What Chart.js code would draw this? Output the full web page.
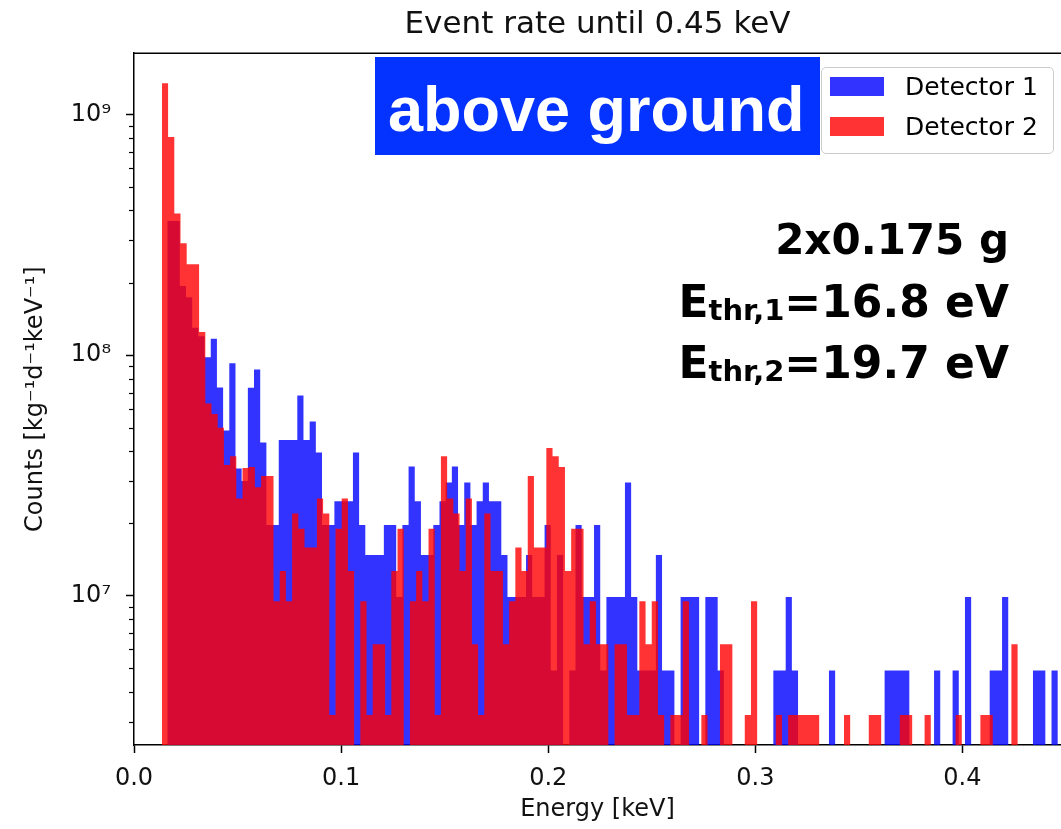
<!DOCTYPE html>
<html>
<head>
<meta charset="utf-8">
<script src="https://cdn.jsdelivr.net/npm/chart.js@4.4.1/dist/chart.umd.min.js"></script>
<style>
  html, body { margin: 0; padding: 0; background: #fff; }
  #wrap { position: relative; width: 1061px; height: 829px; overflow: hidden; }
  #chart { position: absolute; left: 0; top: 0; }
  #ground {
    position: absolute; left: 375px; top: 57px; width: 445px; height: 98px;
    background: #0433ff; color: #fff; box-sizing: border-box; padding-left: 13px;
    font: bold 63px "Liberation Sans", Arial, sans-serif; line-height: 104px; white-space: nowrap;
  }
  #legend {
    position: absolute; left: 821px; top: 67px; width: 233px; height: 87px; box-sizing: border-box;
    background: rgba(255,255,255,0.8); border: 1px solid #cccccc; border-radius: 5px;
    font: 25px "DejaVu Sans", sans-serif; color: #000;
  }
  #legend .patch { position: absolute; left: 8px; width: 54px; height: 19px; }
  #legend .label { position: absolute; left: 83px; line-height: 30px; white-space: nowrap; }
  .note {
    position: absolute; right: 52px; white-space: nowrap; color: #000;
    font-family: "DejaVu Sans", sans-serif; font-weight: bold;
  }
  .note sub { font-size: 29px; vertical-align: -3px; line-height: 0; }
</style>
</head>
<body>
<div id="wrap">
  <canvas id="chart" width="1061" height="829"></canvas>
  <div id="ground">above ground</div>
  <div id="legend">
    <div class="patch" style="top:9px;background:rgba(0,0,255,0.8)"></div>
    <div class="label" style="top:4px">Detector 1</div>
    <div class="patch" style="top:49px;background:rgba(255,0,0,0.8)"></div>
    <div class="label" style="top:44px">Detector 2</div>
  </div>
  <div class="note" style="top:219px;font-size:42px;line-height:42px">2x0.175 g</div>
  <div class="note" style="top:280px;font-size:44px;line-height:44px">E<sub>thr,1</sub>=16.8 eV</div>
  <div class="note" style="top:341px;font-size:44px;line-height:44px">E<sub>thr,2</sub>=19.7 eV</div>
</div>
<script>
// histogram binning (keV)
const det1Start = 0.01318, det1Width = 0.002985;
const det2Start = 0.01347, det2Width = 0.002994;

// rates per bin [kg^-1 d^-1 keV^-1]
const det1Rate = [
  0, 3.61e8, 3.61e8, 1.94e8, 1.74e8, 1.30e8, 1.2e8, 9.8e7, 1.17e8, 7.35e7,
  4.87e7, 9.26e7, 3.38e7, 3.0e7, 7.32e7, 8.72e7, 4.34e7, 1.97e7, 1.97e7, 4.44e7,
  4.44e7, 4.44e7, 6.8e7, 4.44e7, 5.31e7, 3.94e7, 1.97e7, 1.97e7, 2.47e7, 2.47e7,
  2.47e7, 3.94e7, 1.97e7, 1.48e7, 1.48e7, 1.48e7, 1.97e7, 1.97e7, 9.9e6, 1.97e7,
  3.45e7, 2.47e7, 1.48e7, 1.48e7, 1.97e7, 2.47e7, 2.96e7, 3.45e7, 1.97e7, 2.96e7,
  1.97e7, 2.47e7, 2.96e7, 2.47e7, 2.47e7, 1.48e7, 9.9e6, 9.9e6, 9.9e6, 1.48e7,
  9.9e6, 9.9e6, 1.97e7, 4.9e6, 1.48e7, 0, 4.9e6, 1.97e7, 9.9e6, 9.9e6,
  1.97e7, 4.9e6, 9.9e6, 9.9e6, 9.9e6, 2.96e7, 9.9e6, 4.9e6, 4.9e6, 4.9e6,
  1.48e7, 4.9e6, 4.9e6, 0, 9.9e6, 9.9e6, 9.9e6, 0, 9.9e6, 9.9e6,
  4.9e6, 0, 0, 0, 0, 0, 0, 0, 0, 4.9e6,
  4.9e6, 9.9e6, 4.9e6, 0, 0, 0, 0, 0, 4.9e6, 0,
  0, 0, 0, 0, 0, 0, 0, 4.9e6, 4.9e6, 4.9e6,
  4.9e6, 0, 0, 0, 0, 4.9e6, 0, 0, 4.9e6, 0,
  9.9e6, 0, 0, 0, 4.9e6, 4.9e6, 9.9e6, 0, 0, 0,
  0, 4.9e6, 4.9e6, 0, 4.9e6, 0
];
const det2Rate = [
  1.35e9, 8.08e8, 3.88e8, 2.92e8, 2.39e8, 2.39e8, 1.25e8, 6.3e7, 5.7e7, 5.0e7,
  3.5e7, 3.8e7, 2.54e7, 3.4e7, 3.43e7, 2.83e7, 3.15e7, 3.15e7, 9.5e6, 1.27e7,
  9.5e6, 2.2e7, 1.9e7, 1.59e7, 1.59e7, 2.54e7, 2.2e7, 3.2e6, 1.9e7, 2.54e7,
  1.27e7, 0, 9.5e6, 3.2e6, 6.3e6, 6.3e6, 3.2e6, 1.27e7, 1.9e7, 0,
  9.5e6, 1.27e7, 9.5e6, 1.9e7, 3.2e6, 3.8e7, 2.54e7, 2.2e7, 1.27e7, 2.54e7,
  6.3e6, 3.2e6, 2.2e7, 1.27e7, 1.27e7, 6.3e6, 9.5e6, 1.59e7, 1.27e7, 3.15e7,
  1.59e7, 1.59e7, 4.12e7, 3.8e7, 3.43e7, 1.27e7, 1.9e7, 1.9e7, 6.3e6, 9.5e6,
  6.3e6, 6.3e6, 0, 6.3e6, 6.3e6, 3.2e6, 3.2e6, 9.5e6, 6.3e6, 9.5e6,
  3.2e6, 0, 3.2e6, 3.2e6, 9.5e6, 0, 0, 3.2e6, 0, 0,
  6.3e6, 6.3e6, 0, 0, 3.2e6, 9.5e6, 0, 0, 0, 3.2e6,
  0, 3.2e6, 3.2e6, 3.2e6, 3.2e6, 3.2e6, 0, 0, 0, 0,
  3.2e6, 0, 0, 0, 3.2e6, 3.2e6, 0, 0, 0, 3.2e6,
  3.2e6, 0, 0, 3.2e6, 0, 0, 0, 0, 3.2e6, 0,
  0, 0, 3.2e6, 3.2e6, 0, 0, 0, 6.3e6, 0, 0,
  0, 0, 0, 0, 0, 0
];

const xTickValues = [0, 0.1, 0.2, 0.3, 0.4];
const xRange = [0, 0.4476];
const yRange = [2.4e6, 1.8e9];

const sup = { '0': '⁰', '1': '¹', '2': '²', '3': '³', '4': '⁴', '5': '⁵', '6': '⁶', '7': '⁷', '8': '⁸', '9': '⁹' };

// left bin edges with the bin's rate, plus the closing edge
function histPoints(start, width, rates) {
  const pts = rates.map((r, i) => ({ x: start + i * width, y: r > 0 ? r : yRange[0] }));
  pts.push({ x: start + rates.length * width, y: yRange[0] });
  return pts;
}

const frame = {
  id: 'frame',
  afterDraw(chart) {
    const { ctx, chartArea: a } = chart;
    const y = chart.scales.y;
    ctx.save();
    ctx.strokeStyle = '#000';
    ctx.lineWidth = 1.2;
    y.ticks.forEach(t => {
      if (t.major) return;
      const py = Math.round(y.getPixelForValue(t.value)) + 0.5;
      ctx.beginPath();
      ctx.moveTo(a.left - 5, py);
      ctx.lineTo(a.left, py);
      ctx.stroke();
    });
    ctx.lineWidth = 1.5;
    ctx.beginPath();
    ctx.moveTo(a.left, a.top);
    ctx.lineTo(a.right, a.top);
    ctx.stroke();
    ctx.restore();
  }
};

const tickFont = { family: 'DejaVu Sans', size: 24 };

new Chart(document.getElementById('chart'), {
  type: 'line',
  data: {
    datasets: [{
      label: 'Detector 1',
      data: histPoints(det1Start, det1Width, det1Rate),
      backgroundColor: 'rgba(0, 0, 255, 0.8)',
      order: 1
    }, {
      label: 'Detector 2',
      data: histPoints(det2Start, det2Width, det2Rate),
      backgroundColor: 'rgba(255, 0, 0, 0.8)',
      order: 0
    }]
  },
  options: {
    responsive: false,
    animation: false,
    devicePixelRatio: 1,
    datasets: {
      line: {
        stepped: true,
        fill: 'start',
        borderWidth: 0,
        borderColor: 'rgba(0,0,0,0)',
        pointRadius: 0,
        tension: 0
      }
    },
    layout: { padding: 0 },
    plugins: {
      legend: { display: false },
      tooltip: { enabled: false },
      title: {
        display: true,
        fullSize: false,
        text: 'Event rate until 0.45 keV',
        color: '#111',
        font: { family: 'DejaVu Sans', size: 31, weight: 'normal' },
        padding: { top: 6, bottom: 10 }
      }
    },
    scales: {
      x: {
        type: 'linear',
        min: xRange[0],
        max: xRange[1],
        afterFit: s => { s.height = 84; },
        afterBuildTicks: s => { s.ticks = xTickValues.map(v => ({ value: v })); },
        ticks: {
          autoSkip: false,
          color: '#111',
          font: tickFont,
          padding: 11,
          maxRotation: 0,
          callback: v => v.toFixed(1)
        },
        grid: { drawOnChartArea: false, tickLength: 8, tickColor: '#000', tickWidth: 1.5 },
        border: { display: true, color: '#000', width: 1.5 },
        title: {
          display: true,
          text: 'Energy [keV]',
          color: '#111',
          font: tickFont,
          padding: { top: 0, bottom: 5 }
        }
      },
      y: {
        type: 'logarithmic',
        min: yRange[0],
        max: yRange[1],
        afterFit: s => { s.width = 134; },
        afterBuildTicks: s => {
          const t = [];
          for (let e = 6; e <= 9; e++) {
            for (let m = 1; m <= 9; m++) {
              const v = m * Math.pow(10, e);
              if (v >= s.min && v <= s.max) t.push({ value: v, major: m === 1 });
            }
          }
          s.ticks = t;
        },
        ticks: {
          autoSkip: false,
          color: '#111',
          font: tickFont,
          padding: 15,
          callback: (v, i, ticks) => ticks[i].major ? '10' + sup[Math.round(Math.log10(v))] : ''
        },
        grid: {
          drawOnChartArea: false,
          tickLength: 8,
          tickWidth: 1.5,
          tickColor: c => (c.tick && c.tick.major) ? '#000' : 'rgba(0,0,0,0)'
        },
        border: { display: true, color: '#000', width: 1.5 },
        title: {
          display: true,
          text: 'Counts [kg⁻¹d⁻¹keV⁻¹]',
          color: '#111',
          font: tickFont,
          padding: { top: 21, bottom: 0 }
        }
      }
    }
  },
  plugins: [frame]
});
</script>
</body>
</html>
